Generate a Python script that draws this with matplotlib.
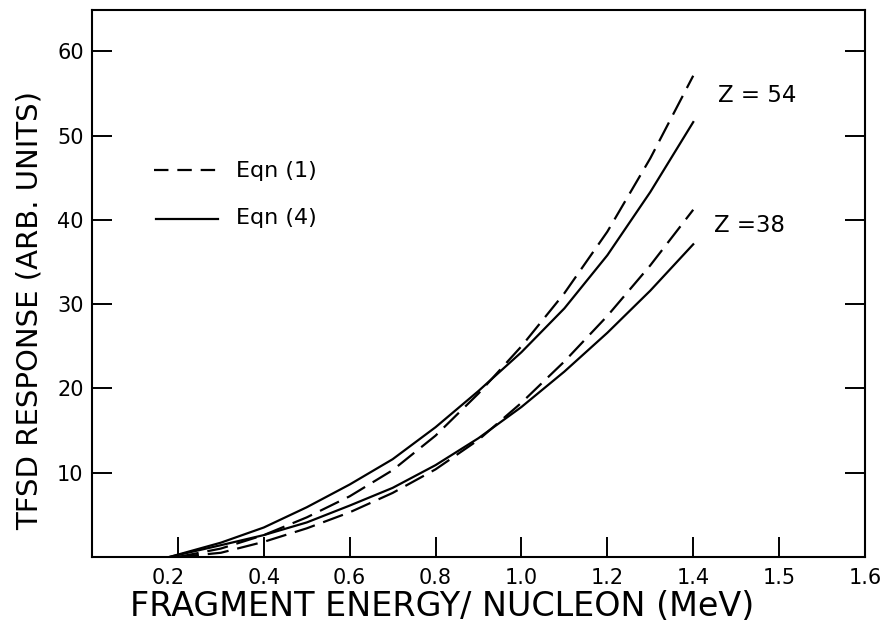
import numpy as np
import matplotlib
matplotlib.use("Agg")
import matplotlib.pyplot as plt
from matplotlib.transforms import ScaledTranslation

# Response curves (arbitrary units) vs fragment energy per nucleon (MeV)
energy_eqn1 = [0.2, 0.3, 0.4, 0.5, 0.6, 0.7, 0.8, 0.9, 1.0, 1.1, 1.2, 1.3, 1.4]
z54_eqn1 = [0.0, 1.0, 2.6, 4.7, 7.2, 10.3, 14.4, 19.4, 25.0, 31.3, 38.6, 47.3, 57.1]
z38_eqn1 = [0.0, 0.5, 1.8, 3.4, 5.3, 7.6, 10.4, 13.9, 18.3, 23.2, 28.6, 34.6, 41.2]

energy_eqn4 = [0.18, 0.3, 0.4, 0.5, 0.6, 0.7, 0.8, 0.9, 1.0, 1.1, 1.2, 1.3, 1.4]
z54_eqn4 = [0.0, 1.7, 3.5, 5.9, 8.6, 11.6, 15.4, 19.7, 24.3, 29.5, 35.8, 43.3, 51.6]
z38_eqn4 = [0.0, 1.4, 2.6, 4.1, 6.1, 8.2, 10.9, 14.1, 17.8, 22.0, 26.6, 31.6, 37.1]

x_ticks = [0.2, 0.4, 0.6, 0.8, 1.0, 1.2, 1.4, 1.6, 1.8]
x_tick_labels = ["0.2", "0.4", "0.6", "0.8", "1.0", "1.2", "1.4", "1.5", "1.6"]
y_ticks = [10, 20, 30, 40, 50, 60]

W, H = 880, 630
DPI = 100
LW = 1.6
DASH = (0, (9.5, 4))

fig = plt.figure(figsize=(W / DPI, H / DPI), dpi=DPI)
ax = fig.add_axes([92 / W, 1 - 557 / H, (865 - 92) / W, (557 - 10) / H])

ax.plot(energy_eqn1, z54_eqn1, color="black", lw=LW, linestyle=DASH)
ax.plot(energy_eqn1, z38_eqn1, color="black", lw=LW, linestyle=DASH)
ax.plot(energy_eqn4, z54_eqn4, color="black", lw=LW)
ax.plot(energy_eqn4, z38_eqn4, color="black", lw=LW)

ax.set_xlim(0, 1.8)
ax.set_ylim(0, 64.9)

ax.set_xticks(x_ticks)
ax.set_xticklabels(x_tick_labels)
ax.set_yticks(y_ticks)
ax.tick_params(axis="both", direction="in", length=14.5, width=1.4,
               labelsize=15, color="black")
ax.tick_params(axis="x", pad=8)
ax.tick_params(axis="y", pad=6, right=True)

# first x label sits a little left of its tick
lab = ax.get_xticklabels()[0]
lab.set_transform(lab.get_transform() + ScaledTranslation(-10 / DPI, 0, fig.dpi_scale_trans))

for s in ax.spines.values():
    s.set_linewidth(1.5)

# curve labels
fig.text(718 / W, 1 - 95 / H, "Z = 54", fontsize=16.5, va="center", ha="left")
fig.text(714 / W, 1 - 225 / H, "Z =38", fontsize=16.5, va="center", ha="left")

# hand-drawn key
ax.plot([154 / W, 217 / W], [1 - 170 / H, 1 - 170 / H], transform=fig.transFigure,
        color="black", lw=LW, linestyle=(0, (6.5, 4)), clip_on=False)
ax.plot([156 / W, 218 / W], [1 - 219 / H, 1 - 219 / H], transform=fig.transFigure,
        color="black", lw=LW, clip_on=False)
fig.text(236 / W, 1 - 171 / H, "Eqn (1)", fontsize=16, va="center", ha="left")
fig.text(236 / W, 1 - 218 / H, "Eqn (4)", fontsize=16, va="center", ha="left")

fig.text(442 / W, 1 - 606 / H, "FRAGMENT ENERGY/ NUCLEON (MeV)", fontsize=24,
         ha="center", va="center")
fig.text(30 / W, 1 - 310 / H, "TFSD RESPONSE (ARB. UNITS)", fontsize=21,
         ha="center", va="center", rotation=90)

fig.savefig("out.png", dpi=DPI)
